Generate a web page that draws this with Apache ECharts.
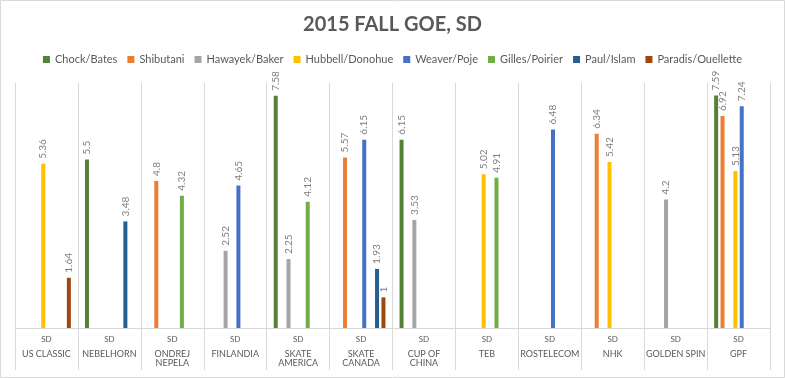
<!DOCTYPE html>
<html>
<head>
<meta charset="utf-8">
<script src="https://cdn.jsdelivr.net/npm/echarts@6/dist/echarts.min.js"></script>
<style>
html,body{margin:0;padding:0;background:#fff;}
#c{width:785px;height:378px;}
</style>
</head>
<body>
<div id="c"></div>
<script>
var categories = ['US CLASSIC','NEBELHORN','ONDREJ\nNEPELA','FINLANDIA','SKATE\nAMERICA','SKATE\nCANADA','CUP OF\nCHINA','TEB','ROSTELECOM','NHK','GOLDEN SPIN','GPF'];
var subLabel = 'SD';
var seriesNames = ['Chock/Bates','Shibutani','Hawayek/Baker','Hubbell/Donohue','Weaver/Poje','Gilles/Poirier','Paul/Islam','Paradis/Ouellette'];
var chockBates      = [null, 5.5, null, null, 7.58, null, 6.15, null, null, null, null, 7.59];
var shibutanis      = [null, null, 4.8, null, null, 5.57, null, null, null, 6.34, null, 6.92];
var hawayekBaker    = [null, null, null, 2.52, 2.25, null, 3.53, null, null, null, 4.2, null];
var hubbellDonohue  = [5.36, null, null, null, null, null, null, 5.02, null, 5.42, null, 5.13];
var weaverPoje      = [null, null, null, 4.65, null, 6.15, null, null, 6.48, null, null, 7.24];
var gillesPoirier   = [null, null, 4.32, null, 4.12, null, null, 4.91, null, null, null, null];
var paulIslam       = [null, 3.48, null, null, null, 1.93, null, null, null, null, null, null];
var paradisOuellette= [1.64, null, null, null, null, 1, null, null, null, null, null, null];
var allValues = [chockBates, shibutanis, hawayekBaker, hubbellDonohue, weaverPoje, gillesPoirier, paulIslam, paradisOuellette];
var colors = ['#548235','#ED7D31','#A5A5A5','#FFC000','#4472C4','#70AD47','#255E91','#9E480E'];

var FONT = 'Lato, "Liberation Sans", sans-serif';
var chart = echarts.init(document.getElementById('c'), null, {renderer:'canvas'});

var series = seriesNames.map(function(n, i){
  return {
    name: n,
    type: 'bar',
    data: allValues[i],
    barWidth: 4,
    barGap: '60%',
    itemStyle: {color: colors[i]},
    label: {
      show: true,
      position: 'top',
      rotate: 90,
      align: 'left',
      verticalAlign: 'middle',
      distance: 5,
      color: '#7f7f7f',
      fontSize: 10,
      fontFamily: FONT
    }
  };
});

chart.setOption({
  animation: false,
  color: colors,
  title: {
    text: '2015 FALL GOE, SD',
    left: 'center',
    top: 10,
    textStyle: {color:'#595959', fontSize: 20, fontWeight: 'bold', fontFamily: FONT}
  },
  legend: {
    top: 49,
    left: 'center',
    icon: 'rect',
    itemWidth: 7,
    itemHeight: 7,
    itemGap: 10,
    data: seriesNames,
    textStyle: {color:'#595959', fontSize: 11, fontFamily: FONT}
  },
  graphic: [{
    type: 'rect',
    shape: {x: 0.5, y: 0.5, width: 784, height: 377},
    style: {fill: 'none', stroke: '#d9d9d9', lineWidth: 1},
    silent: true
  }],
  grid: {left: 15, right: 15, top: 83, bottom: 50, containLabel: false},
  xAxis: {
    type: 'category',
    data: categories,
    boundaryGap: true,
    axisLine: {show: true, lineStyle: {color:'#d9d9d9'}},
    axisTick: {show: true, length: 42, lineStyle: {color:'#d9d9d9'}},
    splitLine: {show: true, lineStyle: {color:'#d9d9d9'}},
    axisLabel: {
      interval: 0,
      margin: 4,
      formatter: function(v){
        var lines = v.split('\n').map(function(s){ return '{nm|' + s + '}'; });
        return '{sd|' + subLabel + '}\n{sp| }\n' + lines.join('\n');
      },
      rich: {
        sd: {fontSize: 8, lineHeight: 14, color:'#595959', fontFamily: FONT},
        sp: {fontSize: 1, lineHeight: 4, color:'#595959'},
        nm: {fontSize: 9, lineHeight: 9, color:'#595959', fontFamily: FONT}
      }
    }
  },
  yAxis: {
    type: 'value',
    min: 0,
    max: 8,
    show: false,
    splitLine: {show: false}
  },
  series: series
});
</script>
</body>
</html>
